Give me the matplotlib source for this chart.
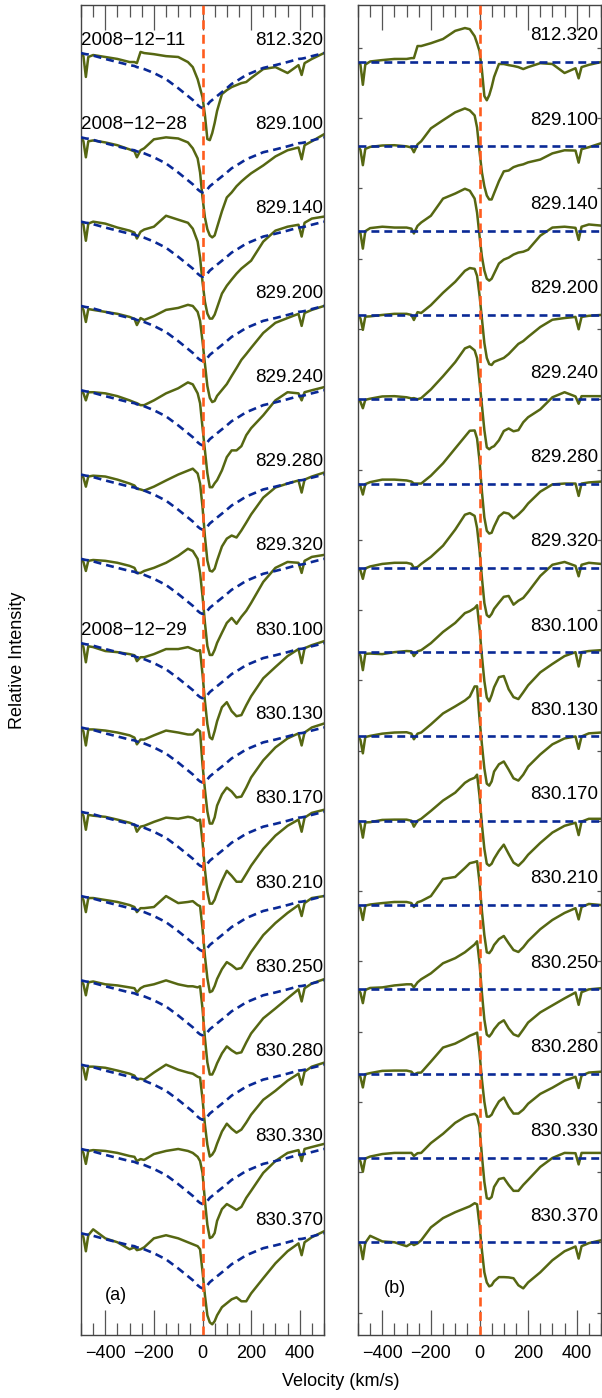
import numpy as np
import matplotlib.pyplot as plt
from matplotlib.ticker import MultipleLocator

# velocity knots (km/s) shared by every spectrum
velocity = [-500, -490, -480, -470, -450, -400, -350, -300, -280, -270, -255, -240,
            -200, -150, -100, -60, -40, -20, -10, 0, 10, 20, 30, 40, 50, 60,
            80, 100, 120, 140, 160, 180, 200, 250, 300, 350, 395, 408, 420, 450, 500]

# fitted absorption profile (blue dashed), same for all epochs
fit_profile = [1.000, 0.998, 0.996, 0.995, 0.991, 0.979, 0.968, 0.957, 0.954, 0.950, 0.947, 0.943,
               0.929, 0.907, 0.875, 0.847, 0.833, 0.815, 0.808, 0.804, 0.808, 0.815, 0.826, 0.833, 0.840, 0.847,
               0.861, 0.875, 0.890, 0.900, 0.911, 0.922, 0.929, 0.947, 0.957, 0.968, 0.979, 0.980, 0.982, 0.989, 1.000]

labels = ['812.320', '829.100', '829.140', '829.200', '829.240', '829.280', '829.320',
          '830.100', '830.130', '830.170', '830.210', '830.250', '830.280', '830.330', '830.370']
dates = {0: '2008\u221212\u221211', 1: '2008\u221212\u221228', 7: '2008\u221212\u221229'}

obs_812_320 = [1.000, 0.989, 0.915, 0.986, 0.993, 0.986, 0.979, 0.968, 0.968, 0.964, 1.004, 1.000,
               0.996, 0.989, 0.986, 0.968, 0.950, 0.907, 0.875, 0.843, 0.779, 0.694, 0.690, 0.715, 0.751, 0.794,
               0.854, 0.868, 0.879, 0.886, 0.893, 0.897, 0.911, 0.943, 0.950, 0.929, 0.957, 0.922, 0.964, 0.979, 1.000]
obs_829_100 = [1.000, 0.986, 0.929, 0.986, 0.989, 0.982, 0.972, 0.957, 0.950, 0.929, 0.954, 0.961,
               0.993, 1.000, 0.996, 0.982, 0.961, 0.925, 0.875, 0.786, 0.715, 0.673, 0.651, 0.644, 0.651, 0.680,
               0.737, 0.786, 0.804, 0.826, 0.843, 0.858, 0.872, 0.900, 0.932, 0.954, 0.964, 0.922, 0.972, 0.986, 1.011]
obs_829_140 = [1.000, 0.989, 0.932, 0.993, 1.000, 0.993, 0.979, 0.968, 0.961, 0.940, 0.964, 0.972,
               0.982, 1.021, 1.007, 0.996, 0.975, 0.929, 0.872, 0.786, 0.715, 0.673, 0.655, 0.655, 0.669, 0.694,
               0.744, 0.772, 0.794, 0.815, 0.833, 0.847, 0.861, 0.929, 0.968, 0.982, 0.989, 0.947, 0.996, 1.011, 1.018]
obs_829_200 = [1.000, 0.986, 0.943, 0.989, 0.986, 0.979, 0.972, 0.961, 0.954, 0.932, 0.957, 0.950,
               0.964, 0.986, 0.993, 1.004, 1.000, 0.979, 0.947, 0.875, 0.794, 0.715, 0.673, 0.658, 0.662, 0.680,
               0.701, 0.722, 0.751, 0.779, 0.808, 0.829, 0.851, 0.904, 0.940, 0.957, 0.972, 0.929, 0.975, 0.986, 1.000]
obs_829_240 = [1.000, 0.989, 0.964, 0.993, 0.993, 0.989, 0.979, 0.964, 0.957, 0.954, 0.947, 0.947,
               0.964, 0.989, 1.007, 1.028, 1.021, 0.989, 0.954, 0.868, 0.786, 0.705, 0.655, 0.655, 0.669, 0.680,
               0.715, 0.762, 0.786, 0.786, 0.801, 0.840, 0.865, 0.911, 0.964, 0.993, 0.989, 0.964, 0.993, 1.000, 1.011]
obs_829_280 = [1.000, 0.989, 0.957, 0.993, 0.996, 0.993, 0.982, 0.968, 0.961, 0.950, 0.947, 0.943,
               0.957, 0.979, 1.000, 1.014, 1.021, 1.004, 0.968, 0.886, 0.779, 0.694, 0.658, 0.655, 0.665, 0.694,
               0.744, 0.772, 0.783, 0.776, 0.801, 0.829, 0.858, 0.918, 0.954, 0.968, 0.979, 0.936, 0.982, 0.993, 1.007]
obs_829_320 = [1.000, 0.989, 0.957, 0.993, 0.996, 0.993, 0.986, 0.975, 0.968, 0.950, 0.950, 0.957,
               0.968, 0.986, 1.011, 1.036, 1.028, 1.000, 0.950, 0.868, 0.772, 0.690, 0.658, 0.658, 0.676, 0.701,
               0.737, 0.772, 0.790, 0.769, 0.794, 0.815, 0.843, 0.918, 0.968, 0.989, 0.986, 0.950, 0.993, 1.007, 1.014]
obs_830_100 = [1.000, 0.986, 0.932, 0.989, 0.986, 0.972, 0.968, 0.961, 0.957, 0.936, 0.950, 0.950,
               0.961, 0.979, 0.979, 0.986, 0.979, 0.972, 0.975, 0.890, 0.794, 0.712, 0.665, 0.658, 0.687, 0.722,
               0.772, 0.790, 0.758, 0.740, 0.744, 0.779, 0.811, 0.875, 0.915, 0.954, 0.979, 0.929, 0.982, 0.993, 1.007]
obs_830_130 = [1.000, 0.986, 0.936, 0.993, 0.993, 0.989, 0.982, 0.972, 0.964, 0.940, 0.957, 0.957,
               0.972, 0.989, 0.982, 0.975, 0.975, 0.993, 0.986, 0.868, 0.779, 0.701, 0.658, 0.658, 0.680, 0.722,
               0.762, 0.786, 0.772, 0.751, 0.754, 0.786, 0.822, 0.883, 0.929, 0.961, 0.979, 0.936, 0.982, 1.000, 1.014]
obs_830_170 = [1.000, 0.986, 0.936, 0.989, 0.986, 0.982, 0.972, 0.961, 0.954, 0.929, 0.947, 0.950,
               0.964, 0.979, 0.975, 0.982, 0.979, 0.968, 0.972, 0.893, 0.794, 0.715, 0.673, 0.673, 0.687, 0.712,
               0.754, 0.790, 0.772, 0.751, 0.751, 0.779, 0.808, 0.868, 0.915, 0.950, 0.972, 0.929, 0.979, 0.996, 1.007]
obs_830_210 = [1.000, 0.986, 0.943, 0.993, 0.993, 0.986, 0.979, 0.968, 0.961, 0.943, 0.957, 0.957,
               0.961, 1.000, 0.975, 0.979, 0.982, 0.968, 0.964, 0.886, 0.786, 0.708, 0.658, 0.662, 0.680, 0.705,
               0.740, 0.765, 0.754, 0.740, 0.744, 0.772, 0.801, 0.861, 0.904, 0.940, 0.968, 0.929, 0.975, 0.993, 1.000]
obs_830_250 = [1.000, 0.986, 0.947, 0.993, 0.996, 0.986, 0.982, 0.975, 0.972, 0.957, 0.972, 0.979,
               0.986, 1.000, 0.986, 0.979, 0.979, 0.975, 0.979, 0.900, 0.794, 0.708, 0.665, 0.665, 0.683, 0.705,
               0.740, 0.765, 0.751, 0.740, 0.744, 0.779, 0.811, 0.865, 0.900, 0.936, 0.968, 0.925, 0.972, 0.989, 1.004]
obs_830_280 = [1.000, 0.986, 0.947, 0.993, 0.993, 0.989, 0.979, 0.968, 0.961, 0.947, 0.950, 0.947,
               0.972, 1.000, 0.982, 0.972, 0.968, 0.957, 0.954, 0.879, 0.786, 0.715, 0.673, 0.680, 0.694, 0.719,
               0.762, 0.790, 0.772, 0.758, 0.769, 0.794, 0.822, 0.875, 0.907, 0.943, 0.968, 0.929, 0.975, 0.993, 1.007]
obs_830_330 = [1.000, 0.986, 0.947, 0.993, 0.996, 0.993, 0.986, 0.975, 0.972, 0.957, 0.964, 0.961,
               0.982, 0.993, 1.000, 0.993, 0.986, 0.972, 0.957, 0.915, 0.815, 0.730, 0.683, 0.687, 0.701, 0.744,
               0.786, 0.804, 0.794, 0.783, 0.794, 0.826, 0.851, 0.915, 0.957, 0.986, 0.996, 0.957, 1.000, 1.007, 1.018]
obs_830_370 = [1.000, 0.986, 0.936, 0.993, 1.014, 0.982, 0.968, 0.943, 0.950, 0.940, 0.943, 0.950,
               0.982, 0.993, 0.982, 0.968, 0.961, 0.954, 0.943, 0.865, 0.779, 0.708, 0.683, 0.676, 0.687, 0.708,
               0.737, 0.751, 0.765, 0.772, 0.758, 0.758, 0.786, 0.840, 0.893, 0.936, 0.964, 0.922, 0.968, 0.986, 1.007]

spectra = [obs_812_320, obs_829_100, obs_829_140, obs_829_200, obs_829_240, obs_829_280, obs_829_320,
           obs_830_100, obs_830_130, obs_830_170, obs_830_210, obs_830_250, obs_830_280, obs_830_330, obs_830_370]

step = 0.3
green = '#566712'
blue = '#0a2996'
orange = '#ff5c1e'

plt.rcParams['font.family'] = ['Liberation Sans', 'DejaVu Sans']
fig = plt.figure(figsize=(6.02, 13.98), dpi=100)
W, H = 602.0, 1398.0
ax1 = fig.add_axes([81 / W, 1 - 1335 / H, 243 / W, 1330 / H])
ax2 = fig.add_axes([358 / W, 1 - 1335 / H, 243 / W, 1330 / H])

v = np.array(velocity)
fit = np.array(fit_profile)

for k, obs in enumerate(spectra):
    obs = np.array(obs)
    off = -step * k
    ax1.plot(v, obs + off, color=green, lw=1.8, zorder=2)
    ax1.plot(v, fit + off, color=blue, lw=1.9, dashes=(3.0, 1.9), zorder=3)
    ax2.plot(v, obs - fit + off, color=green, lw=1.8, zorder=2)
    ax2.plot([-500, 500], [off, off], color=blue, lw=1.9, dashes=(3.0, 1.9), zorder=3)
    ax1.text(496, 1 + off + 0.046, labels[k], ha='right', va='center', fontsize=13.5)
    ax2.text(488, off + 0.093, labels[k], ha='right', va='center', fontsize=13.5)
    if k in dates:
        ax1.text(-498, 1 + off + 0.046, dates[k], ha='left', va='center', fontsize=13.5)

ax1.set_ylim(1.171 - 4.733, 1.171)
ax2.set_ylim(0.203 - 4.733, 0.203)

for ax in (ax1, ax2):
    ax.axvline(0, color=orange, lw=1.9, dashes=(3.4, 2.1), zorder=4)
    ax.set_xlim(-500, 500)
    ax.xaxis.set_major_locator(MultipleLocator(200))
    ax.xaxis.set_minor_locator(MultipleLocator(50))
    ax.tick_params(axis='x', which='major', direction='in', top=True, length=18,
                   width=0.9, color='#555555', labelsize=13, pad=7)
    ax.tick_params(axis='x', which='minor', direction='in', top=True, length=8.5,
                   width=0.9, color='#555555')
    for s in ax.spines.values():
        s.set_color('#444444')
        s.set_linewidth(1.0)

ax1.set_yticks([])
ax2.yaxis.set_major_locator(MultipleLocator(0.25, offset=0.05))
ax2.tick_params(axis='y', which='major', direction='in', left=True, right=True,
                length=3, width=0.9, color='#555555', labelleft=False)

ax1.text(0.144, 0.030, '(a)', transform=ax1.transAxes, ha='center', va='center', fontsize=13)
ax2.text(0.150, 0.035, '(b)', transform=ax2.transAxes, ha='center', va='center', fontsize=13)

fig.text(341 / W, 1 - 1382 / H, 'Velocity (km/s)', ha='center', va='center', fontsize=13)
fig.text(18 / W, 1 - 660 / H, 'Relative Intensity', ha='center', va='center', rotation=90, fontsize=13)

fig.savefig('out.png', dpi=100)
